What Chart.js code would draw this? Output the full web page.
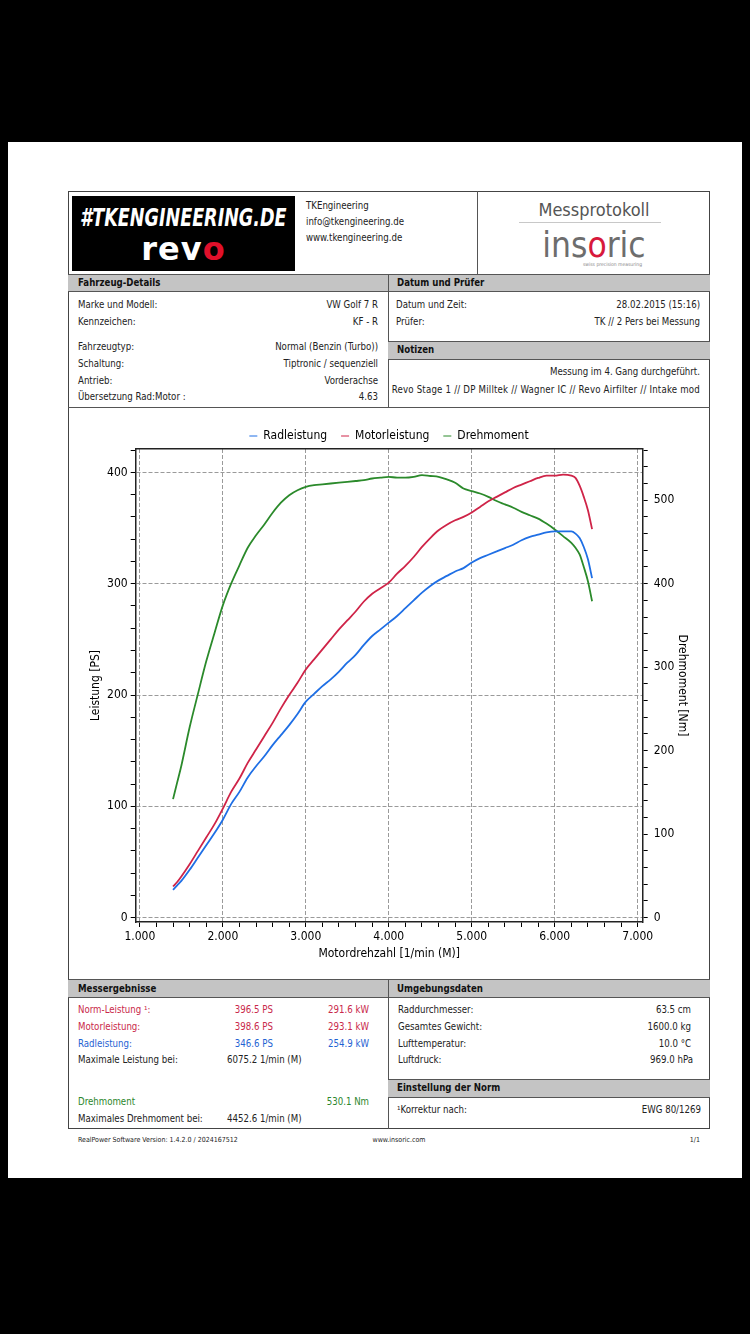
<!DOCTYPE html>
<html lang="de">
<head>
<meta charset="utf-8">
<title>Messprotokoll</title>
<script src="https://cdn.jsdelivr.net/npm/chart.js@4.4.1/dist/chart.umd.min.js"></script>
<style>
  html, body { margin: 0; padding: 0; background: #000; }
  #page { position: relative; width: 750px; height: 1334px; background: #000; overflow: hidden;
          font-family: 'DejaVu Sans Condensed', 'DejaVu Sans', sans-serif; }
  .abs { position: absolute; }
  .t { position: absolute; font-size: 9.6px; line-height: 12px; white-space: nowrap; color: #222; }
  .b { font-weight: bold; color: #111; }
  .bar { position: absolute; background: #c4c4c4; border-top: 1px solid #555; border-bottom: 1px solid #555; box-sizing: border-box; }
  .vl { position: absolute; width: 1px; background: #555; }
  .hl { position: absolute; height: 1px; background: #555; }
  .red { color: #c9284a; }
  .blue { color: #1f63d3; }
  .green { color: #2b862b; }
  #chartBox { position: absolute; left: 69px; top: 409px; width: 640px; height: 570px; }
</style>
</head>
<body>
<div id="page">
  <div class="abs" style="left:8px;top:142px;width:734px;height:1036px;background:#fff;"></div>
  <div class="abs" style="left:68px;top:191px;width:642px;height:938px;border:1px solid #444;box-sizing:border-box;"></div>

  <!-- header -->
  <div class="abs" style="left:72px;top:196px;width:223px;height:75px;background:#000;"></div>
  <div class="abs" style="left:-17px;top:203px;width:400px;text-align:center;color:#fff;font-weight:bold;font-style:italic;font-size:25px;line-height:30px;white-space:nowrap;">
    <span style="display:inline-block;transform:scaleX(0.78);transform-origin:center;">#TKENGINEERING.DE</span>
  </div>
  <div class="abs" style="left:72px;top:230px;width:223px;text-align:center;color:#fff;font-weight:bold;font-size:32px;line-height:38px;font-family:'DejaVu Sans',sans-serif;letter-spacing:1px;">rev<span style="color:#e0102a;">o</span></div>

  <div class="t" style="left:306px;top:200px;">TKEngineering</div>
  <div class="t" style="left:306px;top:216px;">info@tkengineering.de</div>
  <div class="t" style="left:306px;top:232px;">www.tkengineering.de</div>

  <div class="vl" style="left:477px;top:191px;height:83px;"></div>
  <div class="abs" style="left:478px;top:199px;width:232px;text-align:center;color:#555;font-size:18px;line-height:22px;">Messprotokoll</div>
  <div class="abs" style="left:519px;top:222px;width:142px;height:1px;background:#c8c8c8;"></div>
  <div class="abs" style="left:482px;top:224px;width:224px;text-align:center;color:#6d6d6d;font-size:35px;line-height:42px;">ins<span style="color:#d7193c;">o</span>ric</div>
  <div class="abs" style="left:583px;top:261px;font-size:5px;line-height:6px;color:#888;white-space:nowrap;">swiss precision measuring</div>

  <!-- Fahrzeug-Details / Datum und Prüfer -->
  <div class="bar" style="left:68px;top:274px;width:642px;height:18px;"></div>
  <div class="t b" style="left:78px;top:277px;">Fahrzeug-Details</div>
  <div class="t b" style="left:397px;top:277px;">Datum und Prüfer</div>
  <div class="vl" style="left:388px;top:274px;height:134px;"></div>

  <div class="t" style="left:78px;top:299px;">Marke und Modell:</div>
  <div class="t" style="right:372px;top:299px;">VW Golf 7 R</div>
  <div class="t" style="left:78px;top:316px;">Kennzeichen:</div>
  <div class="t" style="right:372px;top:316px;">KF - R</div>
  <div class="t" style="left:78px;top:341px;">Fahrzeugtyp:</div>
  <div class="t" style="right:372px;top:341px;">Normal (Benzin (Turbo))</div>
  <div class="t" style="left:78px;top:358px;">Schaltung:</div>
  <div class="t" style="right:372px;top:358px;">Tiptronic / sequenziell</div>
  <div class="t" style="left:78px;top:375px;">Antrieb:</div>
  <div class="t" style="right:372px;top:375px;">Vorderachse</div>
  <div class="t" style="left:78px;top:391px;">Übersetzung Rad:Motor :</div>
  <div class="t" style="right:372px;top:391px;">4.63</div>

  <div class="t" style="left:396px;top:299px;">Datum und Zeit:</div>
  <div class="t" style="right:50px;top:299px;">28.02.2015 (15:16)</div>
  <div class="t" style="left:396px;top:316px;">Prüfer:</div>
  <div class="t" style="right:50px;top:316px;">TK // 2 Pers bei Messung</div>

  <div class="bar" style="left:388px;top:341px;width:322px;height:19px;"></div>
  <div class="t b" style="left:397px;top:344px;">Notizen</div>
  <div class="t" style="right:50px;top:366px;">Messung im 4. Gang durchgeführt.</div>
  <div class="t" style="right:50px;top:384px;letter-spacing:0.2px;">Revo Stage 1 // DP Milltek // Wagner IC // Revo Airfilter // Intake mod</div>
  <div class="hl" style="left:68px;top:407px;width:642px;"></div>

  <!-- chart -->
  <div id="chartBox"><canvas id="graph" width="640" height="570"></canvas></div>

  <!-- Messergebnisse / Umgebungsdaten -->
  <div class="bar" style="left:68px;top:979px;width:642px;height:19px;"></div>
  <div class="t b" style="left:78px;top:983px;">Messergebnisse</div>
  <div class="t b" style="left:397px;top:983px;">Umgebungsdaten</div>
  <div class="vl" style="left:388px;top:979px;height:150px;"></div>

  <div class="t red" style="left:78px;top:1004px;">Norm-Leistung ¹:</div>
  <div class="t red" style="right:477px;top:1004px;">396.5 PS</div>
  <div class="t red" style="right:381px;top:1004px;">291.6 kW</div>
  <div class="t red" style="left:78px;top:1021px;">Motorleistung:</div>
  <div class="t red" style="right:477px;top:1021px;">398.6 PS</div>
  <div class="t red" style="right:381px;top:1021px;">293.1 kW</div>
  <div class="t blue" style="left:78px;top:1038px;">Radleistung:</div>
  <div class="t blue" style="right:477px;top:1038px;">346.6 PS</div>
  <div class="t blue" style="right:381px;top:1038px;">254.9 kW</div>
  <div class="t" style="left:78px;top:1054px;">Maximale Leistung bei:</div>
  <div class="t" style="left:227px;top:1054px;">6075.2 1/min (M)</div>
  <div class="t green" style="left:78px;top:1096px;">Drehmoment</div>
  <div class="t green" style="right:381px;top:1096px;">530.1 Nm</div>
  <div class="t" style="left:78px;top:1113px;">Maximales Drehmoment bei:</div>
  <div class="t" style="left:227px;top:1113px;">4452.6 1/min (M)</div>

  <div class="t" style="left:398px;top:1004px;">Raddurchmesser:</div>
  <div class="t" style="right:59px;top:1004px;">63.5 cm</div>
  <div class="t" style="left:398px;top:1021px;">Gesamtes Gewicht:</div>
  <div class="t" style="right:59px;top:1021px;">1600.0 kg</div>
  <div class="t" style="left:398px;top:1038px;">Lufttemperatur:</div>
  <div class="t" style="right:59px;top:1038px;">10.0 °C</div>
  <div class="t" style="left:398px;top:1054px;">Luftdruck:</div>
  <div class="t" style="right:57px;top:1054px;">969.0 hPa</div>

  <div class="bar" style="left:388px;top:1079px;width:322px;height:19px;"></div>
  <div class="t b" style="left:397px;top:1082px;">Einstellung der Norm</div>
  <div class="t" style="left:397px;top:1104px;">¹Korrektur nach:</div>
  <div class="t" style="right:49px;top:1104px;">EWG 80/1269</div>

  <!-- footer -->
  <div class="t" style="left:78px;top:1135px;font-size:7px;line-height:10px;">RealPower Software Version: 1.4.2.0 / 2024167512</div>
  <div class="t" style="left:299px;top:1135px;width:200px;text-align:center;font-size:7px;line-height:10px;">www.insoric.com</div>
  <div class="t" style="right:50px;top:1135px;font-size:7px;line-height:10px;">1/1</div>
</div>

<script>
// Motordrehzahl [1/min]
const rpm = [1400, 1450, 1500, 1600, 1700, 1800, 1900, 2000, 2100, 2200, 2300, 2400, 2500, 2600, 2700, 2800, 2900,
  3000, 3100, 3200, 3300, 3400, 3500, 3600, 3700, 3800, 3900, 4000, 4100, 4200, 4300, 4400, 4500, 4600, 4700,
  4800, 4900, 5000, 5100, 5200, 5300, 5400, 5500, 5600, 5700, 5800, 5900, 6000, 6100, 6200, 6250, 6300, 6350,
  6400, 6450];

// Radleistung [PS]
const radleistung = [25, 29, 33, 43, 54, 65, 76, 88, 102, 113, 126, 136, 145, 155, 164, 173, 183,
  194, 201, 208, 214, 221, 229, 236, 245, 253, 259, 265, 271, 278, 285, 292, 298, 303, 307,
  311, 314, 319, 323, 326, 329, 332, 335, 339, 342, 344, 346, 347, 347, 347, 345, 341, 333,
  322, 305];

// Motorleistung [PS]
const motorleistung = [28, 32, 37, 48, 60, 72, 84, 98, 113, 125, 139, 151, 163, 175, 188, 200, 211,
  223, 232, 241, 250, 259, 267, 275, 284, 291, 296, 301, 309, 316, 324, 333, 341, 348, 353,
  357, 360, 364, 369, 374, 378, 382, 386, 389, 392, 395, 397, 397, 398, 397, 395, 388, 378,
  366, 349];

// Drehmoment [Nm]
const drehmoment = [142, 162, 182, 228, 268, 307, 341, 374, 400, 422, 443, 458, 471, 485, 497, 506, 512,
  516, 518, 519, 520, 521, 522, 523, 524, 526, 527, 528, 527, 527, 528, 530, 529, 528, 525,
  521, 514, 511, 508, 504, 499, 495, 491, 486, 482, 478, 472, 465, 457, 449, 443, 435, 420,
  403, 379];

const seriesNames = ['Radleistung', 'Motorleistung', 'Drehmoment'];
const seriesColors = ['#1f6fe5', '#cf2448', '#2b8a2b'];

const points = vals => rpm.map((r, i) => ({ x: r, y: vals[i] }));

Chart.defaults.font.family = "'DejaVu Sans Condensed', 'DejaVu Sans', sans-serif";
Chart.defaults.font.size = 12;
Chart.defaults.color = '#000';

const gridGray = '#9a9a9a';
const noLine = 'rgba(0,0,0,0)';

// legend box is given a fixed height so the plot area lands where it should
const legendHeight = {
  id: 'legendHeight',
  beforeInit(chart) {
    const fit = chart.legend.fit;
    chart.legend.fit = function () {
      fit.call(this);
      this.height = 33;
    };
  }
};

const graph = document.getElementById('graph').getContext('2d');

const myChart = new Chart(graph, {
  type: 'line',
  data: {
    datasets: [
      { label: seriesNames[0], data: points(radleistung), borderColor: seriesColors[0], backgroundColor: seriesColors[0], yAxisID: 'y' },
      { label: seriesNames[1], data: points(motorleistung), borderColor: seriesColors[1], backgroundColor: seriesColors[1], yAxisID: 'y' },
      { label: seriesNames[2], data: points(drehmoment), borderColor: seriesColors[2], backgroundColor: seriesColors[2], yAxisID: 'y1' }
    ]
  },
  options: {
    responsive: false,
    animation: false,
    elements: {
      line: { borderWidth: 1.8, cubicInterpolationMode: 'monotone', fill: false },
      point: { radius: 0, hoverRadius: 0 }
    },
    layout: { padding: { top: 7, left: 0, right: 0, bottom: 0 } },
    plugins: {
      legend: {
        position: 'top',
        labels: {
          usePointStyle: true,
          pointStyle: 'line',
          pointStyleWidth: 8,
          padding: 14,
          color: '#000',
          font: { size: 12 }
        }
      },
      tooltip: { enabled: false }
    },
    scales: {
      x: {
        type: 'linear',
        position: 'bottom',
        min: 950,
        max: 7060,
        afterFit: s => { s.height = 57; },
        ticks: {
          stepSize: 200,
          autoSkip: false,
          maxRotation: 0,
          includeBounds: false,
          padding: 3,
          callback: v => (v % 1000 === 0 ? (v / 1000) + '.000' : '')
        },
        grid: {
          color: c => (c.tick && c.tick.value % 1000 === 0 ? gridGray : noLine),
          tickColor: '#000',
          tickLength: 5,
          lineWidth: 1
        },
        border: { color: '#222', width: 1.5, dash: [4, 2] },
        title: { display: true, text: 'Motordrehzahl [1/min (M)]', padding: { top: 0, bottom: 18 } }
      },
      x2: {
        type: 'linear',
        position: 'top',
        min: 950,
        max: 7060,
        afterFit: s => { s.height = 0; },
        ticks: { display: false },
        grid: { drawOnChartArea: false, drawTicks: false },
        border: { color: '#222', width: 1.5 }
      },
      y: {
        type: 'linear',
        position: 'left',
        min: -3.9,
        max: 421,
        afterFit: s => { s.width = 66.7; },
        ticks: {
          stepSize: 20,
          autoSkip: false,
          includeBounds: false,
          padding: 3,
          callback: v => (v % 100 === 0 ? String(v) : '')
        },
        grid: {
          color: c => (c.tick && c.tick.value % 100 === 0 ? gridGray : noLine),
          tickColor: '#000',
          tickLength: 5,
          lineWidth: 1
        },
        border: { color: '#222', width: 1.5, dash: [4, 2] },
        title: { display: true, text: 'Leistung [PS]', padding: { top: 20, bottom: 0 } }
      },
      y1: {
        type: 'linear',
        position: 'right',
        min: -5.2,
        max: 561.33,
        afterFit: s => { s.width = 66.3; },
        ticks: {
          stepSize: 20,
          autoSkip: false,
          includeBounds: false,
          padding: 6,
          callback: v => (v % 100 === 0 ? String(v) : '')
        },
        grid: { drawOnChartArea: false, tickColor: '#000', tickLength: 5 },
        border: { color: '#222', width: 1.5 },
        title: { display: true, text: 'Drehmoment [Nm]', padding: { top: 20, bottom: 0 } }
      }
    }
  },
  plugins: [legendHeight]
});
</script>
</body>
</html>
